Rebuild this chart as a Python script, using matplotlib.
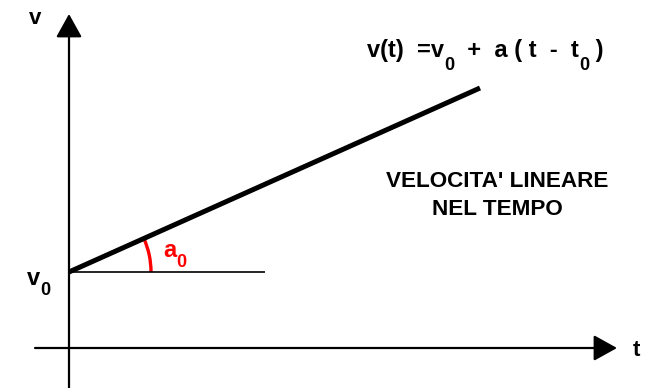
import numpy as np
import matplotlib
matplotlib.use("Agg")
import matplotlib.pyplot as plt
from matplotlib.patches import Arc
from matplotlib.transforms import offset_copy

plt.rcParams["font.family"] = ["Liberation Sans", "DejaVu Sans"]

# velocity line v(t) = v0 + a (t - t0)
t_line = [0, 411]
v_line = [76, 260]
# horizontal reference at v0
t_ref = [0, 196]
v_ref = [76, 76]
v0 = 76
slope_deg = np.degrees(np.arctan2(v_line[1] - v_line[0], t_line[1] - t_line[0]))

fig = plt.figure(figsize=(6.56, 3.88), dpi=100)
ax = fig.add_axes([0, 0, 1, 1])
ax.set_xlim(-69, 587)
ax.set_ylim(-40, 348)
ax.axis("off")
renderer = fig.canvas.get_renderer()


def sub_text(x, y, parts, size=17, sub_size=13, drop=10, color="black"):
    """Draw a run of bold text pieces; pieces flagged True are subscripts."""
    dx = 0.0
    for s, is_sub in parts:
        tr = offset_copy(ax.transData, fig=fig, x=dx,
                         y=-drop if is_sub else 0, units="dots")
        t = ax.text(x, y, s, transform=tr, ha="left", va="baseline",
                    fontsize=sub_size if is_sub else size,
                    fontweight="bold", color=color)
        dx += t.get_window_extent(renderer).width


arrow_kw = dict(arrowstyle="-|>,head_length=0.72,head_width=0.4",
                mutation_scale=20, lw=1.6, color="black",
                shrinkA=0, shrinkB=0)
# axes with arrow heads
ax.annotate("", xy=(0, 334), xytext=(0, -40), arrowprops=arrow_kw)
ax.annotate("", xy=(548, 0), xytext=(-34, 0), arrowprops=arrow_kw)

ax.plot(t_ref, v_ref, color="black", lw=1.2, solid_capstyle="butt")
ax.plot(t_line, v_line, color="black", lw=3.6, solid_capstyle="butt")

# angle marker
ax.add_patch(Arc((0, v0), 164, 164, theta1=0, theta2=slope_deg,
                 color="#ff0000", lw=2.4))

tkw = dict(fontsize=16, fontweight="bold", color="black")
ax.text(-34, 329, "v", ha="center", va="center", **tkw)
ax.text(567, -2, "t", ha="center", va="center", **tkw)

sub_text(-42, 63, [("v", False), ("0", True)])
sub_text(94, 91, [("a", False), ("0", True)], color="#ff0000")
sub_text(298, 291, [("v(t)  =v", False), ("0", True),
                    ("  +  a ( t  -  t", False), ("0", True), (" )", False)],
         drop=13)

ax.text(428, 161, "VELOCITA' LINEARE", ha="center", va="baseline",
        fontsize=16.2, fontweight="bold")
ax.text(428, 133, "NEL TEMPO", ha="center", va="baseline",
        fontsize=16.2, fontweight="bold")

fig.savefig("out.png", dpi=100)
